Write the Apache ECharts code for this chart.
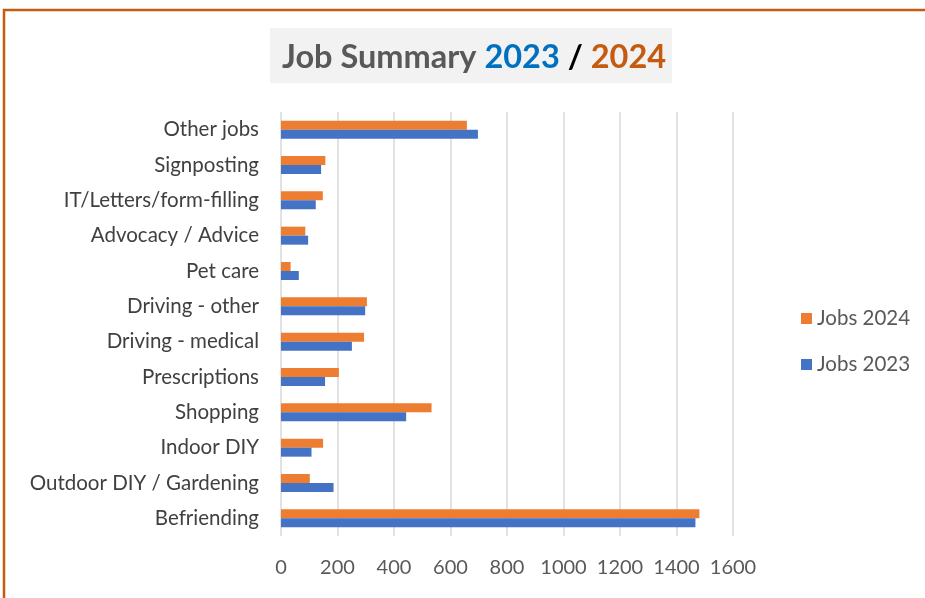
<!DOCTYPE html>
<html><head><meta charset="utf-8">
<script src="https://cdn.jsdelivr.net/npm/echarts@6/dist/echarts.min.js"></script>
<style>html,body{margin:0;padding:0;background:#fff}#c{width:925px;height:598px}</style>
</head><body><div id="c"></div>
<script>
const categories = ["Befriending","Outdoor DIY / Gardening","Indoor DIY","Shopping","Prescriptions","Driving - medical","Driving - other","Pet care","Advocacy / Advice","IT/Letters/form-filling","Signposting","Other jobs"];
const jobs2023 = [1467,186,108,443,156,251,298,63,96,123,142,697];
const jobs2024 = [1481,102,149,533,205,294,304,34,86,148,157,658];
const xTicks = {min:0,max:1600,interval:200};

const chart = echarts.init(document.getElementById('c'));
const font = 'Lato, "Open Sans", sans-serif';
chart.setOption({
  animation:false,
  graphic:[
    {type:'polyline',shape:{points:[[4,598],[4,10],[925,10]]},style:{stroke:'#C55A11',lineWidth:2.5,fill:null}},
    {type:'rect',shape:{x:270,y:28,width:402,height:55},style:{fill:'#F2F2F2'}}
  ],
  title:{
    left:277, top:36,
    text:'{a|Job Summary }{b|2023}{c| / }{d|2024}',
    textStyle:{rich:{
      a:{fontFamily:font,fontWeight:'bold',fontSize:32.5,color:'#595959'},
      b:{fontFamily:font,fontWeight:'bold',fontSize:32.5,color:'#0070C0'},
      c:{fontFamily:font,fontWeight:'bold',fontSize:32.5,color:'#000'},
      d:{fontFamily:font,fontWeight:'bold',fontSize:32.5,color:'#C55A11'}
    }}
  },
  legend:{
    orient:'vertical', left:796, top:303, itemGap:25,
    itemWidth:11, itemHeight:11, icon:'rect',
    data:['Jobs 2024','Jobs 2023'],
    textStyle:{fontFamily:font,fontSize:20.5,color:'#595959'}
  },
  grid:{left:281,top:112,width:452,height:424,containLabel:false},
  xAxis:{
    type:'value', min:xTicks.min, max:xTicks.max, interval:xTicks.interval,
    axisLine:{show:false}, axisTick:{show:false},
    splitLine:{lineStyle:{color:'#D9D9D9',width:1.5}},
    axisLabel:{fontFamily:font,fontSize:20,color:'#595959',margin:22,formatter:v=>String(v)}
  },
  yAxis:{
    type:'category', data:categories,
    axisLine:{show:false}, axisTick:{show:false},
    axisLabel:{fontFamily:font,fontSize:20.5,color:'#404040',margin:22}
  },
  series:[
    {name:'Jobs 2024',type:'bar',data:jobs2024,itemStyle:{color:'#ED7D31'},barWidth:9,barGap:'0%'},
    {name:'Jobs 2023',type:'bar',data:jobs2023,itemStyle:{color:'#4472C4'},barWidth:9,barGap:'0%'}
  ]
});
</script></body></html>
